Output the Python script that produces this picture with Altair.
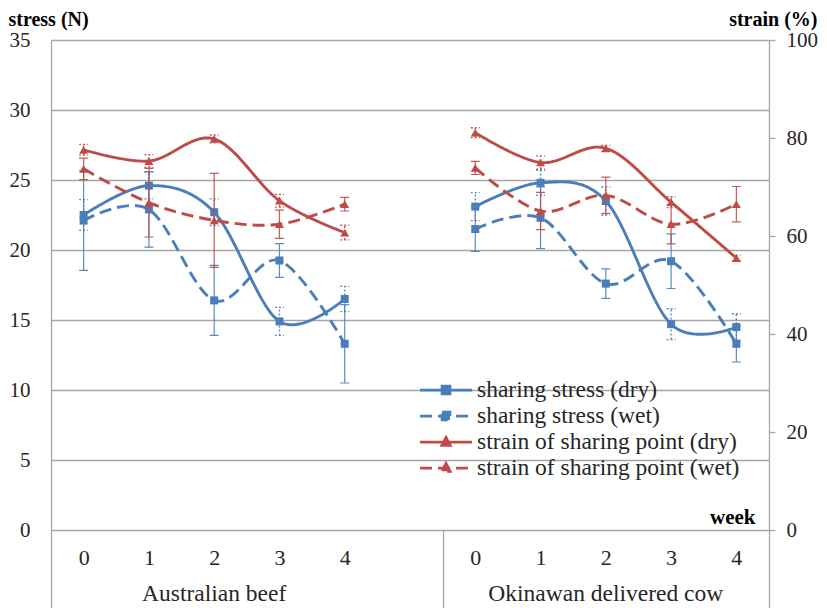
import altair as alt
import pandas as pd

SERIF = "'Liberation Serif', 'DejaVu Serif', 'Times New Roman', serif"
BLUE = "#4a7ebb"
RED = "#be4b48"
GRID = "#a6a6a6"
TXT = "#262626"

weeks = [0, 1, 2, 3, 4]
groups = ["Australian beef", "Okinawan delivered cow"]
series = ["sharing stress (dry)", "sharing stress (wet)",
          "strain of sharing point (dry)", "strain of sharing point (wet)"]

# Australian beef
aus_stress_dry = [22.5, 24.6, 22.7, 14.9, 16.5]
aus_stress_dry_err = [1.1, 0.95, 0.95, 1.0, 0.9]
aus_stress_wet = [22.1, 22.9, 16.4, 19.25, 13.3]
aus_stress_wet_err = [3.55, 2.7, 2.5, 1.2, 2.8]
aus_strain_dry = [77.6, 75.3, 79.8, 67.2, 60.7]
aus_strain_dry_err = [1.1, 1.3, 0.8, 1.3, 1.5]
aus_strain_wet = [73.7, 66.8, 63.2, 62.4, 66.5]
aus_strain_wet_err = [2.2, 7.0, 9.6, 2.9, 1.4]

# Okinawan delivered cow
oki_stress_dry = [23.1, 24.8, 23.5, 14.7, 14.5]
oki_stress_dry_err = [1.0, 0.9, 1.0, 1.1, 0.95]
oki_stress_wet = [21.5, 22.3, 17.6, 19.2, 13.3]
oki_stress_wet_err = [1.6, 2.2, 1.05, 1.95, 1.3]
oki_strain_dry = [81.1, 75.0, 77.9, 66.9, 55.5]
oki_strain_dry_err = [1.0, 1.35, 0.6, 1.1, 0.6]
oki_strain_wet = [73.9, 65.1, 68.3, 62.4, 66.5]
oki_strain_wet_err = [1.35, 3.8, 3.7, 4.0, 3.6]

stress_ticks = [0, 5, 10, 15, 20, 25, 30, 35]
strain_ticks = [0, 20, 40, 60, 80, 100]

GAP = 6  # category slots per group (5 weeks + one empty slot)

table = {
    groups[0]: [(aus_stress_dry, aus_stress_dry_err), (aus_stress_wet, aus_stress_wet_err),
                (aus_strain_dry, aus_strain_dry_err), (aus_strain_wet, aus_strain_wet_err)],
    groups[1]: [(oki_stress_dry, oki_stress_dry_err), (oki_stress_wet, oki_stress_wet_err),
                (oki_strain_dry, oki_strain_dry_err), (oki_strain_wet, oki_strain_wet_err)],
}

rows = []
for gi, g in enumerate(groups):
    for s, (vals, errs) in zip(series, table[g]):
        for w, v, e in zip(weeks, vals, errs):
            rows.append(dict(group=g, series=s, pos=gi * GAP + w, value=v,
                             lo=v - e, hi=v + e,
                             measure="stress" if "stress" in s else "strain",
                             cond="dry" if "dry" in s else "wet"))
df = pd.DataFrame(rows)

grp_df = pd.DataFrame({"group": groups,
                       "pos": [gi * GAP + (weeks[0] + weeks[-1]) / 2 for gi in range(len(groups))]})

n_slots = GAP * len(groups) - 1
x_min, x_max = -0.5, n_slots - 0.5
axis_values = [x_min] + [w for w in weeks] + [GAP - 0.5] + [GAP + w for w in weeks] + [x_max]

x_axis = alt.Axis(values=axis_values,
                  labelExpr=f"datum.value % 1 != 0 ? '' : '' + (datum.value < {GAP - 1} ? datum.value : datum.value - {GAP})",
                  grid=False, domain=False, ticks=True, tickSize=78, tickColor=GRID, tickWidth=1.3,
                  tickOpacity={"condition": {"test": "datum.value % 1 != 0", "value": 1}, "value": 0},
                  labelPadding=-61, labelFont=SERIF, labelFontSize=22, labelColor=TXT,
                  labelOverlap=False, labelFlush=False,
                  title="week", titleX=704, titleY=-13, titleAlign="right", titleBaseline="middle",
                  titleFont=SERIF, titleFontSize=21, titleFontWeight="bold", titleColor="black")
x_scale = alt.Scale(domain=[x_min, x_max], nice=False, zero=False)
X = alt.X("pos:Q", scale=x_scale, axis=x_axis)

left_axis = alt.Axis(values=stress_ticks, grid=True, gridColor=GRID, gridWidth=1.3,
                     ticks=False, domain=True, domainColor=GRID, domainWidth=1.3,
                     labelFont=SERIF, labelFontSize=21, labelColor=TXT, labelPadding=21,
                     labelOverlap=False, labelFlush=False,
                     title="stress (N)", titleAngle=0, titleX=-43, titleY=-21,
                     titleAlign="left", titleBaseline="middle",
                     titleFont=SERIF, titleFontSize=20, titleFontWeight="bold", titleColor="black")
right_axis = alt.Axis(orient="right", values=strain_ticks, grid=False,
                      ticks=True, tickSize=6, tickColor=GRID, tickWidth=1.3,
                      domain=True, domainColor=GRID, domainWidth=1.3,
                      labelFont=SERIF, labelFontSize=21, labelColor=TXT, labelPadding=11,
                      labelOverlap=False, labelFlush=False,
                      title="strain (%)", titleAngle=0, titleX=48, titleY=-21,
                      titleAlign="right", titleBaseline="middle",
                      titleFont=SERIF, titleFontSize=20, titleFontWeight="bold", titleColor="black")

SQ = "M-2.36,0H2.36M-0.36,-0.36H0.36V0.36H-0.36Z"
TRI = "M-2.36,0H2.36M0,-0.42L0.38,0.3H-0.38Z"
legend = alt.Legend(title=None, orient="none", legendX=382.5, legendY=337.5, padding=0,
                    symbolType=alt.ExprRef(expr=f"indexof(datum.value, 'stress') >= 0 ? '{SQ}' : '{TRI}'"),
                    symbolFillColor=alt.ExprRef(expr=f"indexof(datum.value, 'stress') >= 0 ? '{BLUE}' : '{RED}'"),
                    symbolSize=484, symbolStrokeWidth=2.75, labelOffset=18.5, rowPadding=2,
                    labelFont=SERIF, labelFontSize=23.5, labelColor=TXT, labelLimit=500)

color_scale = alt.Scale(domain=series, range=[BLUE, BLUE, RED, RED])
dash_scale = alt.Scale(domain=series, range=[[1, 0], [12, 6], [1, 0], [12, 6]])
C_leg = alt.Color("series:N", scale=color_scale, legend=legend)
D_leg = alt.StrokeDash("series:N", scale=dash_scale, legend=legend)
C_nl = alt.Color("series:N", scale=color_scale, legend=None)


def group_layer(measure, y_domain, y_axis, shape, size):
    ysc = alt.Scale(domain=y_domain, nice=False, zero=False)
    base = alt.Chart(df).transform_filter(alt.datum.measure == measure)
    line = base.mark_line(interpolate="cardinal", strokeWidth=2.9).encode(
        x=X, y=alt.Y("value:Q", scale=ysc, axis=y_axis),
        color=C_leg, strokeDash=D_leg, detail="group:N")
    layers = [line]
    for cond, dash, sw in [("dry", [2, 2], 1.4), ("wet", [1, 0], 1.2)]:
        b = base.transform_filter(alt.datum.cond == cond)
        vert = b.mark_rule(strokeWidth=sw, strokeDash=dash, opacity=0.9).encode(
            x=X, y=alt.Y("lo:Q", scale=ysc, axis=y_axis), y2="hi:Q", color=C_nl)
        caps = b.transform_fold(["lo", "hi"], as_=["end", "yv"]).mark_rule(
            strokeWidth=sw, strokeDash=dash, opacity=0.9, xOffset=-4.5, x2Offset=4.5).encode(
            x=X, x2="pos:Q", y=alt.Y("yv:Q", scale=ysc, axis=y_axis), color=C_nl)
        layers += [vert, caps]
    pts = base.mark_point(filled=True, shape=shape, size=size, opacity=1).encode(
        x=X, y=alt.Y("value:Q", scale=ysc, axis=y_axis), color=C_nl)
    layers.append(pts)
    return alt.layer(*layers)


left = group_layer("stress", [0, 35], left_axis, "square", 64)
right = group_layer("strain", [0, 100], right_axis, "triangle-up", 80)

labels = alt.Chart(grp_df).mark_text(font=SERIF, fontSize=23.5, color=TXT,
                                     baseline="alphabetic", align="center").encode(
    x=X, y=alt.value(561), text="group:N")

chart = alt.layer(left, right, labels).resolve_scale(y="independent").properties(
    width=718, height=490,
    autosize=alt.AutoSizeParams(type="none"),
    padding={"left": 43, "top": 32, "right": 50, "bottom": 78},
    background="white",
).configure_view(stroke=None)

chart.save("out.html", embed_options={"renderer": "svg", "actions": False})
